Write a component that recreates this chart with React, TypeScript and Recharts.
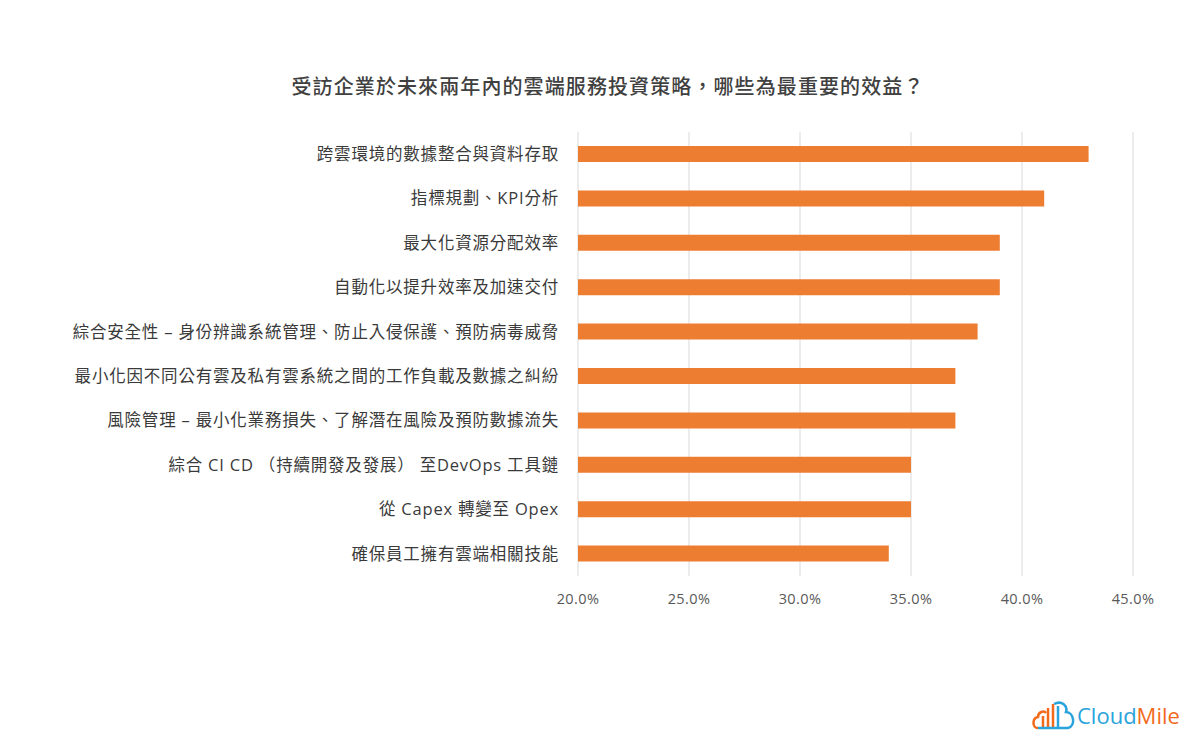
import { BarChart, Bar, XAxis, YAxis, CartesianGrid } from 'recharts'

const categories = [
  '跨雲環境的數據整合與資料存取',
  '指標規劃、KPI分析',
  '最大化資源分配效率',
  '自動化以提升效率及加速交付',
  '綜合安全性 – 身份辨識系統管理、防止入侵保護、預防病毒威脅',
  '最小化因不同公有雲及私有雲系統之間的工作負載及數據之糾紛',
  '風險管理 – 最小化業務損失、了解潛在風險及預防數據流失',
  '綜合 CI CD （持續開發及發展） 至DevOps 工具鏈',
  '從 Capex 轉變至 Opex',
  '確保員工擁有雲端相關技能',
]
const values = [0.43, 0.41, 0.39, 0.39, 0.38, 0.37, 0.37, 0.35, 0.35, 0.34]
const xTicks = [0.2, 0.25, 0.3, 0.35, 0.4, 0.45]

const FONT = '"Open Sans", "Noto Sans CJK TC", sans-serif'

const data = categories.map((name, i) => ({ name, value: values[i] }))

function Logo() {
  return (
    <div style={{ position: 'absolute', left: 1032, top: 700, display: 'flex', alignItems: 'center', fontFamily: FONT }}>
      <svg width={44} height={30} viewBox="0 0 44 30">
        <path d="M6 28 C0 28 0 18 6 17 C6 12 12 10 14 13" fill="none" stroke="#f26b1d" strokeWidth={2.5} />
        <line x1={11} y1={28} x2={11} y2={16} stroke="#f26b1d" strokeWidth={2.5} />
        <line x1={16} y1={28} x2={16} y2={8} stroke="#f26b1d" strokeWidth={2.5} />
        <line x1={21} y1={28} x2={21} y2={4} stroke="#f26b1d" strokeWidth={2.5} />
        <line x1={26} y1={28} x2={26} y2={6} stroke="#29a3dc" strokeWidth={2.5} />
        <path d="M22 4 C30 0 36 6 34 12 C42 12 44 26 36 28 L6 28" fill="none" stroke="#29a3dc" strokeWidth={2.5} />
      </svg>
      <span style={{ fontSize: 22, color: '#29a3dc', marginLeft: 1 }}>Cloud</span>
      <span style={{ fontSize: 22, color: '#f26b1d' }}>Mile</span>
    </div>
  )
}

export default function App() {
  return (
    <div style={{ position: 'absolute', left: 0, top: 0, width: 1200, height: 750, background: '#fff' }}>
      <div
        style={{
          position: 'absolute',
          left: 0,
          width: 1216,
          top: 71,
          textAlign: 'center',
          fontFamily: FONT,
          fontSize: 20,
          letterSpacing: 1.1,
          fontWeight: 500,
          color: '#404040',
        }}
      >
        受訪企業於未來兩年內的雲端服務投資策略，哪些為最重要的效益？
      </div>
      <BarChart
        width={1200}
        height={750}
        data={data}
        layout="vertical"
        margin={{ top: 132, right: 67, bottom: 144, left: 0 }}
        barSize={16}
      >
        <CartesianGrid horizontal={false} stroke="#d9d9d9" />
        <XAxis
          type="number"
          domain={[0.2, 0.45]}
          ticks={xTicks}
          allowDataOverflow
          tickFormatter={(v) => `${(Number(v) * 100).toFixed(1)}%`}
          axisLine={false}
          tickLine={false}
          tickSize={0}
          tickMargin={18}
          height={30}
          tick={{ fontSize: 14.5, fill: '#595959', fontFamily: FONT, letterSpacing: 0.4 }}
        />
        <YAxis
          type="category"
          dataKey="name"
          width={578}
          axisLine={false}
          tickLine={false}
          tickSize={0}
          tickMargin={19}
          interval={0}
          tick={{ fontSize: 16.5, fill: '#3a3a3a', fontFamily: FONT, letterSpacing: 0.8 }}
        />
        <Bar dataKey="value" fill="#ed7d31" isAnimationActive={false} />
      </BarChart>
      <Logo />
    </div>
  )
}
